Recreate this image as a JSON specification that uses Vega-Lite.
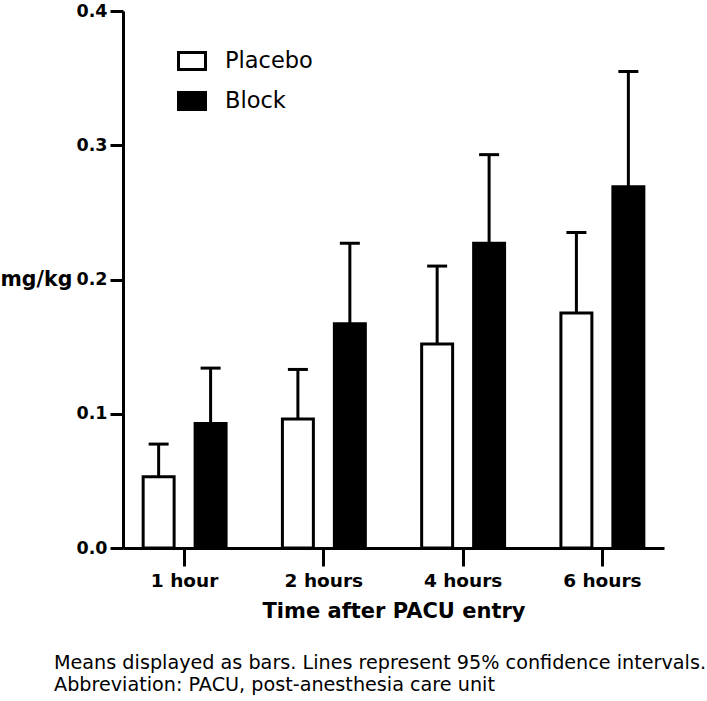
{
  "$schema": "https://vega.github.io/schema/vega-lite/v6.json",
  "width": 541,
  "height": 537,
  "autosize": {"type": "none"},
  "padding": {"left": 123, "top": 11, "right": 43, "bottom": 153},
  "background": "white",
  "config": {"view": {"stroke": null}, "font": "DejaVu Sans"},
  "title": {
    "text": ["Means displayed as bars. Lines represent 95% confidence intervals.", "Abbreviation: PACU, post-anesthesia care unit"],
    "orient": "bottom",
    "anchor": "start",
    "frame": "group",
    "dx": -69,
    "offset": 32,
    "font": "DejaVu Sans",
    "fontSize": 19.2,
    "fontWeight": "normal",
    "color": "black",
    "lineHeight": 22
  },
  "data": {
    "values": [
      {"time": "1 hour", "group": "Placebo", "mean": 0.053, "upper": 0.0774},
      {"time": "1 hour", "group": "Block", "mean": 0.0927, "upper": 0.134},
      {"time": "2 hours", "group": "Placebo", "mean": 0.096, "upper": 0.133},
      {"time": "2 hours", "group": "Block", "mean": 0.167, "upper": 0.227},
      {"time": "4 hours", "group": "Placebo", "mean": 0.152, "upper": 0.21},
      {"time": "4 hours", "group": "Block", "mean": 0.227, "upper": 0.293},
      {"time": "6 hours", "group": "Placebo", "mean": 0.175, "upper": 0.235},
      {"time": "6 hours", "group": "Block", "mean": 0.269, "upper": 0.355}
    ]
  },
  "layer": [
    {
      "mark": {"type": "bar", "stroke": "black", "strokeWidth": 3},
      "encoding": {
        "x": {
          "field": "time", "type": "nominal",
          "sort": ["1 hour", "2 hours", "4 hours", "6 hours"],
          "scale": {"paddingInner": 0.3, "paddingOuter": 0.0925},
          "title": "Time after PACU entry",
          "axis": {
            "labelAngle": 0, "domainColor": "black", "domainWidth": 3,
            "tickColor": "black", "tickWidth": 3, "tickSize": 18,
            "labelFont": "DejaVu Sans", "labelFontSize": 18.5, "labelFontWeight": "bold",
            "labelColor": "black", "labelPadding": 5,
            "titleFont": "DejaVu Sans", "titleFontSize": 21, "titleFontWeight": "bold",
            "titleColor": "black", "titlePadding": 11
          }
        },
        "xOffset": {
          "field": "group", "type": "nominal", "sort": ["Placebo", "Block"],
          "scale": {"paddingInner": 0.404, "paddingOuter": 0.14}
        },
        "y": {
          "field": "mean", "type": "quantitative",
          "scale": {"domain": [0, 0.4], "nice": false},
          "title": "mg/kg",
          "axis": {
            "values": [0, 0.1, 0.2, 0.3, 0.4], "format": ".1f", "grid": false,
            "domainColor": "black", "domainWidth": 3,
            "tickColor": "black", "tickWidth": 3, "tickSize": 13,
            "labelFont": "DejaVu Sans", "labelFontSize": 17.5, "labelFontWeight": "bold",
            "labelColor": "black", "labelPadding": 3, "labelFlush": false, "labelOverlap": false,
            "titleAngle": 0, "titleAlign": "left", "titleBaseline": "alphabetic",
            "titleX": -123, "titleY": 274,
            "titleFont": "DejaVu Sans", "titleFontSize": 20.5, "titleFontWeight": "bold", "titleColor": "black"
          }
        },
        "fill": {
          "field": "group", "type": "nominal", "sort": ["Placebo", "Block"],
          "scale": {"domain": ["Placebo", "Block"], "range": ["white", "black"]},
          "legend": {
            "orient": "none", "legendX": 54, "legendY": 35, "title": null,
            "symbolType": "M-1,-0.63L1,-0.63L1,0.63L-1,0.63Z", "symbolSize": 729,
            "symbolStrokeColor": "black", "symbolStrokeWidth": 3, "symbolOpacity": 1,
            "labelFont": "DejaVu Sans", "labelFontSize": 22.5, "labelColor": "black",
            "labelOffset": 18, "rowPadding": 10, "padding": 0
          }
        }
      }
    },
    {
      "mark": {"type": "rule", "color": "black", "strokeWidth": 3},
      "encoding": {
        "x": {"field": "time", "type": "nominal", "sort": ["1 hour", "2 hours", "4 hours", "6 hours"]},
        "xOffset": {"field": "group", "type": "nominal", "sort": ["Placebo", "Block"]},
        "y": {"field": "mean", "type": "quantitative", "title": "mg/kg"},
        "y2": {"field": "upper"}
      }
    },
    {
      "mark": {"type": "tick", "color": "black", "thickness": 3, "size": 20, "orient": "horizontal", "opacity": 1},
      "encoding": {
        "x": {"field": "time", "type": "nominal", "sort": ["1 hour", "2 hours", "4 hours", "6 hours"]},
        "xOffset": {"field": "group", "type": "nominal", "sort": ["Placebo", "Block"]},
        "y": {"field": "upper", "type": "quantitative", "title": "mg/kg"}
      }
    }
  ]
}
